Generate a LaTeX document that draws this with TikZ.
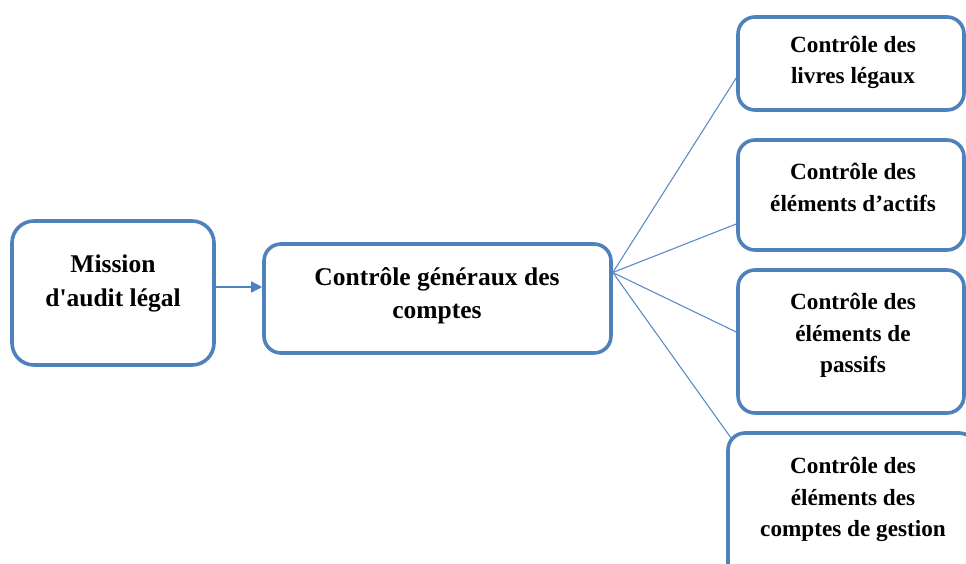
\documentclass[tikz,border=0pt]{standalone}
\usepackage{fontspec}
\setmainfont{Liberation Serif}[Ligatures=TeXOff]
\usetikzlibrary{arrows.meta}
\definecolor{boxblue}{RGB}{79,129,189}
\definecolor{lineblue}{RGB}{91,140,200}
\begin{document}
\begin{tikzpicture}[x=1pt,y=-1pt,
  box/.style={draw=boxblue,line width=3.6pt,rounded corners=17pt,fill=white,inner sep=0pt},
  bigtxt/.style={font=\fontsize{25.5}{33.5}\selectfont\bfseries,align=center,inner sep=0pt},
  smalltxt/.style={font=\fontsize{23.2}{31.5}\selectfont\bfseries,align=center,inner sep=0pt},
  fanline/.style={draw=lineblue,line width=1.1pt},
  arr/.style={draw=boxblue,line width=1.5pt,-{Triangle[length=11pt,width=11pt]}}]
\useasboundingbox (0,0) rectangle (966,563);
\clip (0,0) rectangle (966,563);
% boxes
\node[box,minimum width=202pt,minimum height=144pt,rounded corners=22pt] (b1) at (113,293) {};
\node[box,minimum width=347pt,minimum height=109pt] (b2) at (437.5,298.5) {};
\node[box,minimum width=226pt,minimum height=93pt] (b3) at (851,63.5) {};
\node[box,minimum width=226pt,minimum height=110pt] (b4) at (851,195) {};
\node[box,minimum width=226pt,minimum height=143pt] (b5) at (851,341.5) {};
\node[box,minimum width=248pt,minimum height=160pt] (b6) at (852,513) {};
% texts
\node[bigtxt] (t1) at (113,283.5) {Mission\\d'audit légal};
\node[bigtxt] (t2) at (437,295.5) {Contrôle généraux des\\comptes};
\node[smalltxt] (t3) at (853,62.5) {Contrôle des\\livres légaux};
\node[smalltxt] (t4) at (853,187.5) {Contrôle des\\éléments d’actifs};
\node[smalltxt] (t5) at (853,335.5) {Contrôle des\\éléments de\\passifs};
\node[smalltxt] (t6) at (853,499.5) {Contrôle des\\éléments des\\comptes de gestion};
% connectors
\draw[arr] (b1.east |- 0,287) coordinate (a1) -- (a1 -| b2.west);
\coordinate (fan) at ([yshift=26pt]b2.east);
\draw[fanline] (fan) -- ([yshift=-14.5pt]b3.west);
\draw[fanline] (fan) -- ([yshift=-29pt]b4.west);
\draw[fanline] (fan) -- ([yshift=9.5pt]b5.west);
\coordinate (c6) at ([xshift=5pt,yshift=-7pt]b6.north west);
\draw[fanline] (fan) -- (c6);
\end{tikzpicture}
\end{document}
